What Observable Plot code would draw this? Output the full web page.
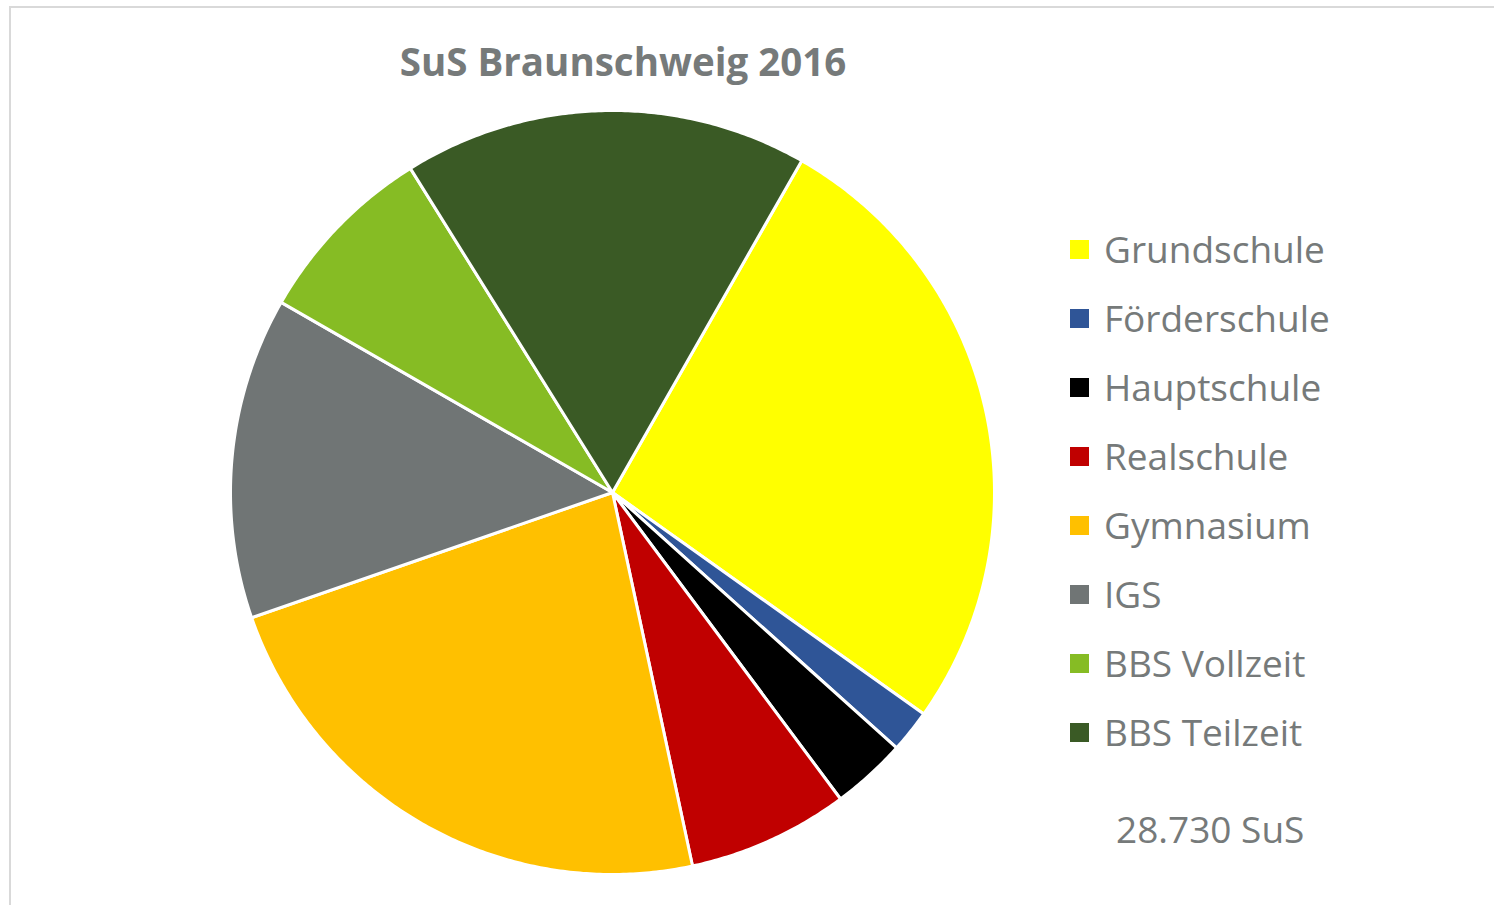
<!DOCTYPE html>
<html>
<head>
<meta charset="utf-8">
<script src="https://cdn.jsdelivr.net/npm/d3@7"></script>
<script src="https://cdn.jsdelivr.net/npm/@observablehq/plot@0.6"></script>
<style>
  html, body { margin: 0; padding: 0; background: #fff; overflow: hidden; }
  #wrap { position: relative; width: 1494px; height: 905px; font-family: "Open Sans", "Noto Sans", sans-serif; }
  #frame { position: absolute; left: 9px; top: 6px; right: 0; bottom: 0; border-top: 2px solid #d9d9d9; border-left: 2px solid #d9d9d9; }
  #chart { position: absolute; left: 0; top: 0; }
  #title { position: absolute; left: 323px; width: 600px; top: 42px; text-align: center; font-weight: 700; font-size: 38.5px; line-height: 38.5px; color: #767a7a; white-space: nowrap; }
  .leg { position: absolute; left: 1070px; height: 37px; font-size: 37px; line-height: 37px; color: #767a7a; white-space: nowrap; }
  .leg .sw { position: absolute; left: 0; top: 10px; width: 19px; height: 19px; }
  .leg .lb { position: absolute; left: 34px; top: 0; }
  #note { position: absolute; left: 1116px; top: 810px; font-size: 37px; line-height: 37px; color: #767a7a; white-space: nowrap; }
</style>
</head>
<body>
<div id="wrap">
  <div id="frame"></div>
  <div id="chart"></div>
  <div id="title"></div>
  <div id="legend"></div>
  <div id="note"></div>
</div>
<script>
// Data
const categories = ["Grundschule", "Förderschule", "Hauptschule", "Realschule", "Gymnasium", "IGS", "BBS Vollzeit", "BBS Teilzeit"];
const students = [7640, 520, 910, 1960, 6620, 3910, 2250, 4920];
const colors = ["#ffff00", "#2f5597", "#000000", "#c00000", "#ffc000", "#707575", "#86bc24", "#3a5a25"];
const titleText = "SuS Braunschweig 2016";
const totalText = "28.730 SuS";

// Layout constants
const W = 1494, H = 905;
const CX = 612, CY = 492, R = 382;
const startDeg = 29.7;

const total = d3.sum(students);
const rows = [];
let acc = 0;
categories.forEach((name, i) => {
  const a0 = startDeg + acc / total * 360;
  acc += students[i];
  const a1 = startDeg + acc / total * 360;
  rows.push({name, x: 0, y: 0});
  const n = Math.max(2, Math.ceil((a1 - a0) / 0.5));
  for (let k = 0; k <= n; k++) {
    const a = (a0 + (a1 - a0) * k / n) * Math.PI / 180;
    rows.push({name, x: R * Math.sin(a), y: R * Math.cos(a)});
  }
});

const chart = Plot.plot({
  width: W,
  height: H,
  margin: 0,
  x: {domain: [-CX, W - CX], axis: null},
  y: {domain: [CY - H, CY], axis: null},
  color: {domain: categories, range: colors},
  marks: [
    Plot.line(rows, {x: "x", y: "y", z: "name", fill: "name", stroke: "white", strokeWidth: 3, strokeLinejoin: "round", curve: "linear-closed"})
  ]
});
document.getElementById("chart").appendChild(chart);

document.getElementById("title").textContent = titleText;
const legend = document.getElementById("legend");
categories.forEach((name, i) => {
  const item = document.createElement("div");
  item.className = "leg";
  item.style.top = (230 + i * 69) + "px";
  const sw = document.createElement("div");
  sw.className = "sw";
  sw.style.background = colors[i];
  const lb = document.createElement("div");
  lb.className = "lb";
  lb.textContent = name;
  item.appendChild(sw); item.appendChild(lb);
  legend.appendChild(item);
});
document.getElementById("note").textContent = totalText;
</script>
</body>
</html>
